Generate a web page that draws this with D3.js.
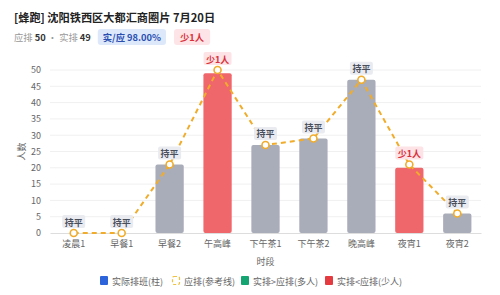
<!DOCTYPE html>
<html>
<head>
<meta charset="utf-8">
<script src="https://cdn.jsdelivr.net/npm/d3@7"></script>
<style>
  body { margin: 0; background: #fff; font-family: "Noto Sans CJK SC", "Noto Sans", sans-serif; }
</style>
</head>
<body>
<div id="viz"></div>
<script>
var slots = ['凌晨1', '早餐1', '早餐2', '午高峰', '下午茶1', '下午茶2', '晚高峰', '夜宵1', '夜宵2'];
var actual = [0, 0, 21, 49, 27, 29, 47, 20, 6];
var planned = [0, 0, 21, 50, 27, 29, 47, 21, 6];
var yTicks = [0, 5, 10, 15, 20, 25, 30, 35, 40, 45, 50];
var legendItems = ['实际排班(柱)', '应排(参考线)', '实排>应排(多人)', '实排<应排(少人)'];

var width = 500,
    height = 295,
    margin = {top: 70, right: 19, bottom: 62, left: 50};

var font = '"Noto Sans CJK SC", "Noto Sans", sans-serif';

var svg = d3.select('#viz').append('svg')
  .attr('width', width)
  .attr('height', height)
  .style('font-family', font);

// header
svg.append('text')
  .attr('x', 14).attr('y', 22)
  .attr('font-size', 11.2).attr('font-weight', 'bold')
  .attr('fill', '#222')
  .text('[蜂跑] 沈阳铁西区大都汇商圈片 7月20日');

var sub = svg.append('text')
  .attr('x', 14).attr('y', 41)
  .attr('font-size', 9.3);
sub.append('tspan').attr('fill', '#999').text('应排 ');
sub.append('tspan').attr('fill', '#333').attr('font-weight', 'bold').text('50');
sub.append('tspan').attr('fill', '#999').text(' · 实排 ');
sub.append('tspan').attr('fill', '#333').attr('font-weight', 'bold').text('49');

var totalA = 49, totalP = 50;
var bx = 14 + sub.node().getComputedTextLength() + 7;

var b1 = svg.append('text')
  .attr('y', 41).attr('font-size', 9.3).attr('font-weight', 'bold').attr('fill', '#2a4fb0')
  .text('实/应 ' + (totalA / totalP * 100).toFixed(2) + '%');
var w1 = b1.node().getComputedTextLength();
svg.append('rect')
  .attr('x', bx).attr('y', 29).attr('width', w1 + 10).attr('height', 16).attr('rx', 3)
  .attr('fill', '#dde8fb');
b1.attr('x', bx + 5).raise();

var bx2 = bx + w1 + 10 + 8;
var b2 = svg.append('text')
  .attr('y', 41).attr('font-size', 9.3).attr('font-weight', 'bold').attr('fill', '#d8303a')
  .text('少' + (totalP - totalA) + '人');
var w2 = b2.node().getComputedTextLength();
svg.append('rect')
  .attr('x', bx2).attr('y', 29).attr('width', w2 + 12).attr('height', 16).attr('rx', 3)
  .attr('fill', '#fde4e6');
b2.attr('x', bx2 + 6).raise();

var xScale = d3.scaleBand()
  .domain(slots)
  .range([margin.left, width - margin.right])
  .paddingInner(0.41)
  .paddingOuter(0.2);

var yScale = d3.scaleLinear()
  .domain([0, 50])
  .range([height - margin.bottom, margin.top]);

// grid
svg.append('g').selectAll('line').data(yTicks.slice(1))
  .enter().append('line')
  .attr('x1', margin.left).attr('x2', width - margin.right)
  .attr('y1', function(d) { return yScale(d); })
  .attr('y2', function(d) { return yScale(d); })
  .attr('stroke', '#f0f0f0');

// y axis
var yAxis = svg.append('g')
  .attr('transform', 'translate(' + margin.left + ',0)')
  .call(d3.axisLeft(yScale).tickValues(yTicks).tickSize(0).tickPadding(9));
yAxis.select('.domain').remove();
yAxis.selectAll('text').attr('fill', '#666').attr('font-size', 9).style('font-family', font);

// x axis
var xAxis = svg.append('g')
  .attr('transform', 'translate(0,' + yScale(0) + ')')
  .call(d3.axisBottom(xScale).tickSize(0).tickPadding(8));
xAxis.select('.domain').attr('stroke', '#ddd');
xAxis.selectAll('text').attr('fill', '#666').attr('font-size', 9).style('font-family', font);

svg.append('text')
  .attr('transform', 'translate(25,' + yScale(25) + ') rotate(-90)')
  .attr('text-anchor', 'middle').attr('font-size', 9).attr('fill', '#666')
  .text('人数');

svg.append('text')
  .attr('x', (margin.left + width - margin.right) / 2).attr('y', 265)
  .attr('text-anchor', 'middle').attr('font-size', 9).attr('fill', '#666')
  .text('时段');

function barColor(i) {
  if (actual[i] < planned[i]) return '#ef666b';
  if (actual[i] > planned[i]) return '#14a56e';
  return '#a9adba';
}

// bars
svg.append('g').selectAll('rect').data(actual)
  .enter().append('rect')
  .attr('x', function(d, i) { return xScale(slots[i]); })
  .attr('width', xScale.bandwidth())
  .attr('y', function(d) { return yScale(d); })
  .attr('height', function(d) { return yScale(0) - yScale(d); })
  .attr('rx', 2)
  .attr('fill', function(d, i) { return barColor(i); });

// planned line
var line = d3.line()
  .x(function(d, i) { return xScale(slots[i]) + xScale.bandwidth() / 2; })
  .y(function(d) { return yScale(d); });

svg.append('path')
  .datum(planned)
  .attr('d', line)
  .attr('fill', 'none')
  .attr('stroke', '#f0ac2a')
  .attr('stroke-width', 2)
  .attr('stroke-dasharray', '5,4');

svg.append('g').selectAll('circle').data(planned)
  .enter().append('circle')
  .attr('cx', function(d, i) { return xScale(slots[i]) + xScale.bandwidth() / 2; })
  .attr('cy', function(d) { return yScale(d); })
  .attr('r', 3.5)
  .attr('fill', '#fff')
  .attr('stroke', '#f0ac2a')
  .attr('stroke-width', 1.6);

// labels
var labels = svg.append('g').selectAll('g').data(slots)
  .enter().append('g')
  .attr('transform', function(d, i) {
    var cx = xScale(d) + xScale.bandwidth() / 2;
    var top = yScale(Math.max(actual[i], planned[i]));
    return 'translate(' + cx + ',' + (top - 11) + ')';
  });

labels.append('rect')
  .attr('x', function(d, i) { return actual[i] < planned[i] ? -14 : -11.5; })
  .attr('y', -7)
  .attr('width', function(d, i) { return actual[i] < planned[i] ? 28 : 23; })
  .attr('height', 13)
  .attr('rx', 2)
  .attr('fill', function(d, i) { return actual[i] < planned[i] ? '#fde3e5' : '#e9ebf0'; });

labels.append('text')
  .attr('text-anchor', 'middle')
  .attr('y', 3.5)
  .attr('font-size', 9)
  .attr('font-weight', 'bold')
  .attr('fill', function(d, i) { return actual[i] < planned[i] ? '#d8303a' : '#4a4f5c'; })
  .text(function(d, i) {
    var diff = actual[i] - planned[i];
    if (diff < 0) return '少' + (-diff) + '人';
    if (diff > 0) return '多' + diff + '人';
    return '持平';
  });

// legend
var legendX = [100, 172, 241, 325];
var legend = svg.append('g').selectAll('g').data(legendItems)
  .enter().append('g')
  .attr('transform', function(d, i) { return 'translate(' + legendX[i] + ',281)'; });

legend.each(function(d, i) {
  var g = d3.select(this);
  if (i === 1) {
    g.append('rect')
      .attr('x', 0.5).attr('y', -4.5).attr('width', 7).attr('height', 8).attr('rx', 1.5)
      .attr('fill', 'none').attr('stroke', '#f0c040').attr('stroke-width', 1.2)
      .attr('stroke-dasharray', '3,2');
  } else {
    g.append('rect')
      .attr('x', 0).attr('y', -5).attr('width', 8).attr('height', 9).attr('rx', 1)
      .attr('fill', ['#2d64dc', null, '#15a572', '#e53a3f'][i]);
  }
  g.append('text')
    .attr('x', 12).attr('y', 3.5)
    .attr('font-size', 9).attr('fill', '#666')
    .text(d);
});
</script>
</body>
</html>
